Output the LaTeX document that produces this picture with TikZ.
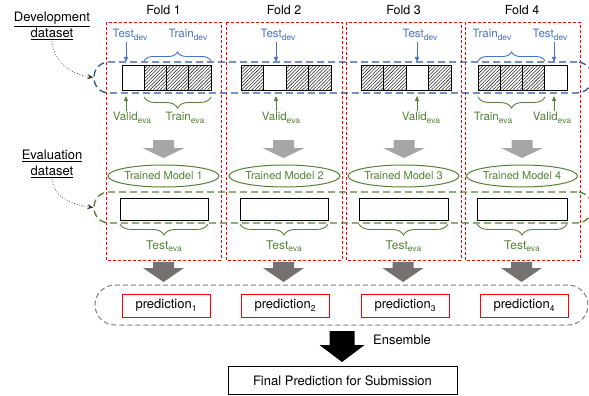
\documentclass[tikz,border=0pt]{standalone}
\usepackage{fontspec}
\setmainfont{TeX Gyre Heros}
\usetikzlibrary{patterns.meta,decorations.pathreplacing,arrows.meta,calc,shapes.geometric}
\definecolor{tblue}{HTML}{4472C4}
\definecolor{rblue}{HTML}{2F5597}
\definecolor{tgreen}{HTML}{548235}
\definecolor{lgray}{HTML}{A6A6A6}
\definecolor{dgray}{HTML}{767171}
\definecolor{ggray}{HTML}{7F7F7F}
\newcommand{\sbs}[1]{\raisebox{-2.6pt}{\fontsize{8.5}{9}\selectfont #1}}
\newcommand{\blkarr}[7]{\fill[#7] ({#1-#5},#2) -- ({#1+#5},#2) -- ({#1+#5},#3) -- ({#1+#6},#3) -- (#1,#4) -- ({#1-#6},#3) -- ({#1-#5},#3) -- cycle;}
\newcommand{\devbar}[3]{%
  \pgfmathsetmacro{\segw}{(#2-#1)/4}%
  \foreach \k in {1,...,4}{%
    \pgfmathsetmacro{\sxa}{#1+(\k-1)*\segw}%
    \pgfmathsetmacro{\sxb}{#1+\k*\segw}%
    \ifnum\k=#3 \draw[seg] (\sxa,66) rectangle (\sxb,90);%
    \else \draw[seg,pattern={Lines[angle=45,distance=2.4pt,line width=0.55pt]},pattern color=black!85] (\sxa,66) rectangle (\sxb,90);\fi
  }}
\tikzset{
  foldbox/.style={draw=red,line width=0.9pt,dash pattern=on 3pt off 2pt},
  title/.style={font=\fontsize{12.5}{14}\selectfont,inner sep=1pt},
  side/.style={font=\fontsize{13}{16}\selectfont,align=center,inner sep=1pt},
  bl/.style={text=tblue,font=\fontsize{11.5}{13}\selectfont,inner sep=1pt},
  gl/.style={text=tgreen,font=\fontsize{11.5}{13}\selectfont,inner sep=1pt},
  seg/.style={draw=black,line width=1pt},
  evbar/.style={draw=black,line width=1pt},
  devreg/.style={draw=rblue,line width=1.3pt,dash pattern=on 7pt off 4pt,rounded corners=15pt},
  evareg/.style={draw=tgreen,line width=1.3pt,dash pattern=on 7pt off 4pt,rounded corners=15pt},
  predreg/.style={draw=ggray,line width=1pt,dash pattern=on 5pt off 3pt,rounded corners=20pt},
  bluearr/.style={draw=tblue,line width=0.8pt,-{Triangle[length=5pt,width=4pt]}},
  greenarr/.style={draw=tgreen,line width=0.8pt,-{Triangle[length=5pt,width=4pt]}},
  bbrace/.style={draw=tblue,line width=0.9pt,decorate,decoration={brace,amplitude=9pt}},
  gbrace/.style={draw=tgreen,line width=0.9pt,decorate,decoration={brace,amplitude=11pt}},
  model/.style={ellipse,draw=tgreen,line width=1pt,text=tgreen,minimum width=107pt,minimum height=22pt,inner sep=0pt,font=\fontsize{11}{13}\selectfont},
  pred/.style={draw=red,line width=1pt,minimum width=88pt,minimum height=23pt,inner sep=0pt,font=\fontsize{13}{15}\selectfont},
  dotarr/.style={draw=black!80,line width=0.7pt,dotted,-{Stealth[length=6pt,width=5pt]}},
}
\begin{document}
\begin{tikzpicture}[x=1pt,y=-1pt]
\useasboundingbox (0,0) rectangle (589,396);
% fold boxes
\draw[foldbox] (106,22) rectangle (221,260);
\draw[foldbox] (226,22) rectangle (342,260);
\draw[foldbox] (346,22) rectangle (461,260);
\draw[foldbox] (465,22) rectangle (580,260);
\node[title] (f1) at (163.5,10) {Fold 1};
\node[title] (f2) at (284,10) {Fold 2};
\node[title] (f3) at (403.5,10) {Fold 3};
\node[title] (f4) at (522,10) {Fold 4};
% regions
\node[devreg,minimum width=498pt,minimum height=31pt,inner sep=0pt] (dev) at (343,77.5) {};
\node[evareg,minimum width=498pt,minimum height=31pt,inner sep=0pt] (eva) at (343,207.5) {};
% side labels
\node[side] (devlab) at (52,26) {\underline{Development}\\\underline{dataset}};
\node[side] (evalab) at (52,164) {\underline{Evaluation}\\\underline{dataset}};
\draw[dotarr] (devlab.south) to[out=-85,in=172] (dev.west);
\draw[dotarr] (evalab.south) to[out=-85,in=172] (eva.west);
% dev bars
\devbar{122}{211}{1}
\devbar{241}{331}{2}
\devbar{361}{451}{3}
\devbar{478}{567}{4}
% dev labels
\node[bl] (td1) at (130,35) {Test\sbs{dev}};
\node[bl] (tr1) at (188,35) {Train\sbs{dev}};
\node[bl] (td2) at (278,35) {Test\sbs{dev}};
\node[bl] (td3) at (420,35) {Test\sbs{dev}};
\node[bl] (tr4) at (492,35) {Train\sbs{dev}};
\node[bl] (td4) at (550,35) {Test\sbs{dev}};
\coordinate (ta1) at (126,62);
\coordinate (ta2) at (276,62);
\coordinate (ta3) at (417,62);
\coordinate (ta4) at (554,62);
\draw[bluearr] (td1.south -| ta1) -- (ta1);
\draw[bluearr] (td2.south -| ta2) -- (ta2);
\draw[bluearr] (td3.south -| ta3) -- (ta3);
\draw[bluearr] (td4.south -| ta4) -- (ta4);
\draw[bbrace] (144,61) -- (211,61);
\draw[bbrace] (478,61) -- (545,61);
% eva labels
\node[gl] (vl1) at (132,118) {Valid\sbs{eva}};
\node[gl] (tn1) at (185,118) {Train\sbs{eva}};
\node[gl] (vl2) at (281,118) {Valid\sbs{eva}};
\node[gl] (vl3) at (421,118) {Valid\sbs{eva}};
\node[gl] (tn4) at (493,118) {Train\sbs{eva}};
\node[gl] (vl4) at (552,118) {Valid\sbs{eva}};
\coordinate (va1) at (126,96);
\coordinate (va2) at (276,96);
\coordinate (va3) at (417,96);
\coordinate (va4) at (554,96);
\draw[greenarr] (vl1.north -| va1) -- (va1);
\draw[greenarr] (vl2.north -| va2) -- (va2);
\draw[greenarr] (vl3.north -| va3) -- (va3);
\draw[greenarr] (vl4.north -| va4) -- (va4);
\draw[gbrace] (211,97) -- (144,97);
\draw[gbrace] (545,97) -- (478,97);
% light arrows
\blkarr{163.5}{140}{148}{158}{10.5}{21}{lgray}
\blkarr{283.5}{140}{148}{158}{10.5}{21}{lgray}
\blkarr{404}{140}{148}{158}{10.5}{21}{lgray}
\blkarr{522}{140}{148}{158}{10.5}{21}{lgray}
% models
\node[model] (m1) at (163.5,176) {Trained Model 1};
\node[model] (m2) at (284.5,176) {Trained Model 2};
\node[model] (m3) at (403.5,176) {Trained Model 3};
\node[model] (m4) at (522,176) {Trained Model 4};
% eval bars
\draw[evbar] (120,198) rectangle (208,220);
\draw[evbar] (240,198) rectangle (328,220);
\draw[evbar] (359,198) rectangle (448,220);
\draw[evbar] (477,198) rectangle (567,220);
\draw[gbrace] (208,224) -- (120,224);
\draw[gbrace] (328,224) -- (240,224);
\draw[gbrace] (448,224) -- (359,224);
\draw[gbrace] (567,224) -- (477,224);
\node[gl,font=\fontsize{12}{14}\selectfont] (te1) at (164,246) {Test\sbs{eva}};
\node[gl,font=\fontsize{12}{14}\selectfont] (te2) at (284,246) {Test\sbs{eva}};
\node[gl,font=\fontsize{12}{14}\selectfont] (te3) at (403.5,246) {Test\sbs{eva}};
\node[gl,font=\fontsize{12}{14}\selectfont] (te4) at (522,246) {Test\sbs{eva}};
% dark arrows
\blkarr{163.5}{262}{268}{282}{10.5}{20.5}{dgray}
\blkarr{283.5}{262}{268}{282}{10.5}{20.5}{dgray}
\blkarr{403}{262}{268}{282}{10.5}{20.5}{dgray}
\blkarr{521.5}{262}{268}{282}{10.5}{20.5}{dgray}
% predictions
\node[predreg,minimum width=493pt,minimum height=40pt,inner sep=0pt] (preg) at (341.5,305) {};
\node[pred] (p1) at (166,305.5) {prediction\sbs{1}};
\node[pred] (p2) at (285,305.5) {prediction\sbs{2}};
\node[pred] (p3) at (405,305.5) {prediction\sbs{3}};
\node[pred] (p4) at (524,305.5) {prediction\sbs{4}};
% ensemble
\blkarr{342}{331}{345}{362}{12.5}{22.5}{black}
\node[font=\fontsize{13}{15}\selectfont,inner sep=1pt] (ens) at (402,340) {Ensemble};
\node[draw=black,line width=0.8pt,minimum width=229pt,minimum height=28pt,inner sep=0pt,font=\fontsize{13}{15}\selectfont] (fin) at (342.5,380.5) {Final Prediction for Submission};
\end{tikzpicture}
\end{document}
